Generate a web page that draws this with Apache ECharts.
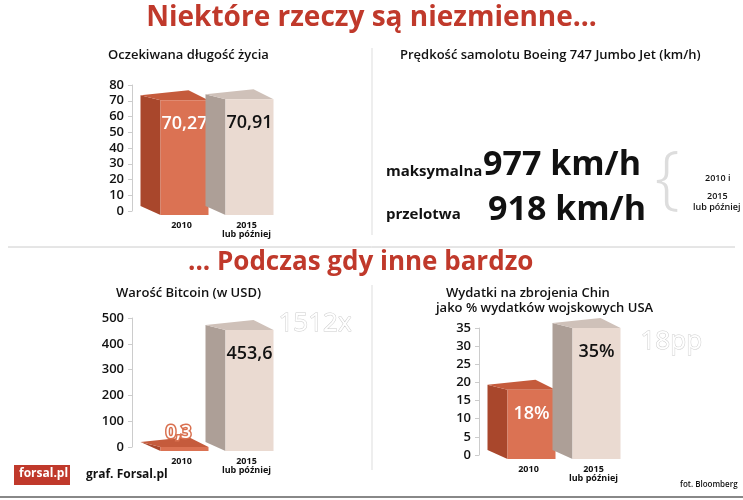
<!DOCTYPE html><html><head><meta charset="utf-8"><script src="https://cdn.jsdelivr.net/npm/echarts@6/dist/echarts.min.js"></script>
<style>body{margin:0;background:#fff}#c{width:743px;height:500px}</style></head><body><div id="c"></div><script>
const categories=['2010','2015\nlub później'];
const lifeValues=[70.27,70.91];
const lifeLabels=['70,27','70,91'];
const btcValues=[0.3,453.6];
const btcLabels=['0,3','453,6'];
const milValues=[18,35];
const milLabels=['18%','35%'];
const F='"Open Sans", sans-serif';
const pal=[{front:'#db7253',side:'#a9472c',top:'#c55b3c',txt:'#fff'},{front:'#eadad1',side:'#ad9f97',top:'#cfc1b9',txt:'#111'}];
function box(labels,fs){return function(p,api){
  const i=api.value(0),v=api.value(1);const t=api.coord([i,v]),b=api.coord([0,0]);
  const fw=48,d=20,r=5;
  const x0=t[0]-4,x1=x0+fw;const yT=t[1],yB=b[1]+4;const c=pal[i];const tiny=v<1;
  return {type:'group',children:[
   {type:'polygon',shape:{points:[[x0,yT],[x0-d,yT-r],[x0-d,yB-r-4],[x0,yB]]},style:{fill:c.side}},
   {type:'polygon',shape:{points:[[x0,yT],[x0-d,yT-r],[x1-d,yT-r-5],[x1,yT]]},style:{fill:c.top}},
   {type:'rect',shape:{x:x0,y:yT,width:fw,height:yB-yT},style:{fill:c.front}},
   {type:'text',style:{text:labels[i],x:(x0+x1)/2-(tiny?6:0),y:tiny?yT-14:yT+24,align:'center',verticalAlign:'middle',fill:c.txt,font:'600 '+fs+'px '+F,stroke:tiny?'#d9704f':null,lineWidth:tiny?3:0}}
  ]};};}
const yAx=(gi,max,iv)=>({type:'value',gridIndex:gi,min:0,max:max,interval:iv,axisLine:{show:true,lineStyle:{color:'#ccc'}},axisTick:{show:true,length:4,lineStyle:{color:'#ccc'}},splitLine:{show:false},axisLabel:{color:'#111',fontFamily:F,fontSize:13,fontWeight:600,margin:8}});
const xAx=gi=>({type:'category',gridIndex:gi,data:categories,axisLine:{show:false},axisTick:{show:false},axisLabel:{interval:0,color:'#111',fontFamily:F,fontSize:9,fontWeight:700,lineHeight:9,margin:10,padding:[0,0,0,34]}});
const tx=(x,y,t,s,o={})=>({type:'text',left:x,top:y,style:Object.assign({text:t,font:(o.w||'600')+' '+s+'px '+F,fill:o.c||'#111'},o.st||{})});
const chart=echarts.init(document.getElementById('c'));
chart.setOption({animation:false,
grid:[{left:132,top:85,width:130,height:126},{left:132,top:318,width:130,height:129},{left:479,top:328,width:130,height:127}],
xAxis:[xAx(0),xAx(1),xAx(2)],yAxis:[yAx(0,80,10),yAx(1,500,100),yAx(2,35,5)],
series:[
 {type:'custom',xAxisIndex:0,yAxisIndex:0,data:lifeValues.map((v,i)=>[i,v]),renderItem:box(lifeLabels,18)},
 {type:'custom',xAxisIndex:1,yAxisIndex:1,data:btcValues.map((v,i)=>[i,v]),renderItem:box(btcLabels,18)},
 {type:'custom',xAxisIndex:2,yAxisIndex:2,data:milValues.map((v,i)=>[i,v]),renderItem:box(milLabels,18)}],
graphic:[
 {type:'text',left:'center',top:4,style:{text:'Niektóre rzeczy są niezmienne...',font:'700 28px '+F,fill:'#c0392b'}},
 {type:'text',left:188,top:250,style:{text:'... Podczas gdy inne bardzo',font:'700 26px '+F,fill:'#c0392b'}},
 {type:'line',shape:{x1:8,y1:247,x2:735,y2:247},style:{stroke:'#ccc',lineWidth:1}},
 {type:'line',shape:{x1:372,y1:48,x2:372,y2:235},style:{stroke:'#ddd',lineWidth:1}},
 {type:'line',shape:{x1:372,y1:285,x2:372,y2:470},style:{stroke:'#ddd',lineWidth:1}},
 {type:'line',shape:{x1:0,y1:497,x2:743,y2:497},style:{stroke:'#888',lineWidth:2}},
 tx(108,49,'Oczekiwana długość życia',13),
 tx(400,49,'Prędkość samolotu Boeing 747 Jumbo Jet (km/h)',13),
 tx(386,164,'maksymalna',15,{w:'700'}),
 tx(483,148,'977 km/h',34,{w:'700'}),
 tx(386,207,'przelotwa',15,{w:'700'}),
 tx(488,193,'918 km/h',34,{w:'700'}),
 tx(655,146,'{',70,{w:'300',c:'#ddd'}),
 tx(705,174,'2010 i',9),
 tx(707,192,'2015',9),
 tx(693,203,'lub później',9),
 tx(116,287,'Warość Bitcoin (w USD)',13),
 tx(446,287,'Wydatki na zbrojenia Chin',13),
 tx(436,302,'jako % wydatków wojskowych USA',13),
 tx(278,310,'1512x',26,{w:'400',c:'#fff',st:{stroke:'#ccc',lineWidth:1}}),
 tx(640,328,'18pp',26,{w:'400',c:'#fff',st:{stroke:'#ccc',lineWidth:1}}),
 {type:'rect',shape:{x:14,y:465,width:56,height:20},style:{fill:'#c0392b'}},
 tx(19,468,'forsal.pl',12,{w:'700',c:'#fff'}),
 tx(86,469,'graf. Forsal.pl',12,{w:'700'}),
 tx(680,481,'fot. Bloomberg',8)
]});
</script></body></html>
